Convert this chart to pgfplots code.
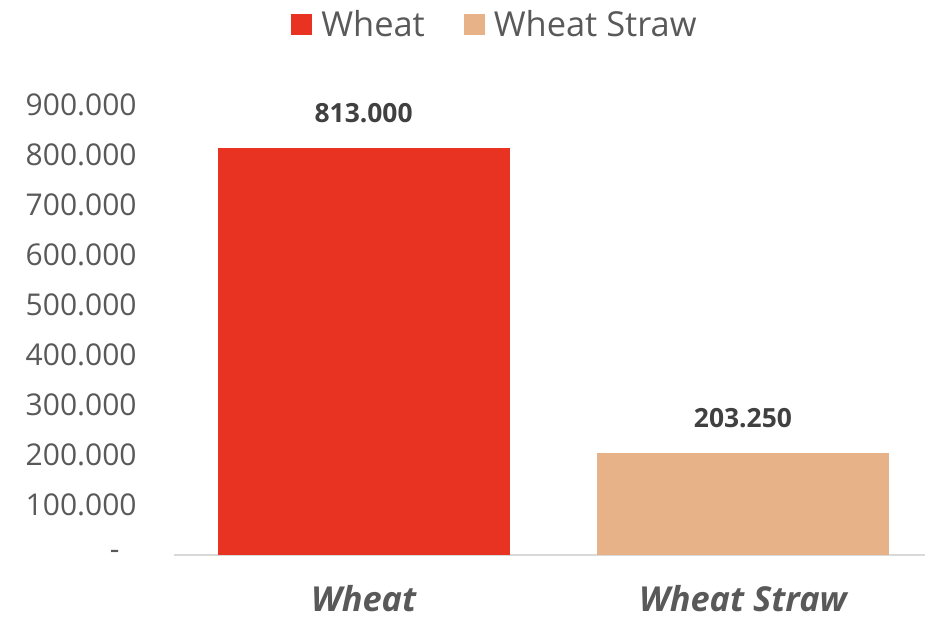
\documentclass[border=0pt]{standalone}
\usepackage{fontspec}
\setmainfont{Open Sans}
\usepackage{pgfplots}
\pgfplotsset{compat=1.18}
\definecolor{cRed}{HTML}{E83323}
\definecolor{cTan}{HTML}{E8B289}
\definecolor{cTxt}{HTML}{595959}
\definecolor{cVal}{HTML}{404040}
\definecolor{cAx}{HTML}{D9D9D9}
\begin{document}
\begin{tikzpicture}
\path[use as bounding box] (0,0) rectangle (463.5pt,310pt);
\begin{axis}[
  at={(87pt,32.5pt)}, anchor=south west,
  scale only axis, width=375.5pt, height=225pt,
  xmin=-0.5, xmax=1.48, ymin=0, ymax=900000,
  scaled y ticks=false,
  axis x line*=bottom, axis y line*=left,
  x axis line style={draw=cAx, line width=0.8pt, -},
  y axis line style={draw=none},
  xtick={0,1}, xticklabels={Wheat, Wheat Straw},
  xticklabel style={anchor=base, inner sep=0pt, text depth=0pt, yshift=-28.5pt, font=\fontsize{17.2}{19}\selectfont\bfseries\itshape, text=cTxt},
  ytick={0,100000,200000,300000,400000,500000,600000,700000,800000,900000},
  yticklabels={{-\kern8.5pt},100.000,200.000,300.000,400.000,500.000,600.000,700.000,800.000,900.000},
  yticklabel style={anchor=east, inner sep=0pt, xshift=-18.5pt, font=\fontsize{15}{17}\selectfont, text=cTxt},
  major tick length=0pt,
  clip=false,
  legend style={at={(0.426,1.178)}, anchor=center, draw=none, fill=none,
    legend columns=-1, font=\fontsize{17.2}{19}\selectfont, text=cTxt,
    nodes={inner sep=0pt},
    /tikz/every even column/.append style={column sep=19.5pt},
    /tikz/every odd column/.append style={column sep=4.5pt},
    inner sep=0pt},
  point meta=explicit symbolic,
  nodes near coords,
  nodes near coords style={anchor=base, inner sep=0pt, yshift=12.75pt, font=\fontsize{13.2}{15}\selectfont\bfseries, text=cVal},
]
\addplot[ybar, bar width=146pt, bar shift=0pt, fill=cRed, draw=none,
  legend image code/.code={\fill[cRed] (0pt,-5.25pt) rectangle (10.5pt,5.25pt);}]
  coordinates {(0,813000) [813.000]};
\addplot[ybar, bar width=146pt, bar shift=0pt, fill=cTan, draw=none,
  legend image code/.code={\fill[cTan] (0pt,-5.25pt) rectangle (10.5pt,5.25pt);}]
  coordinates {(1,203250) [203.250]};
\legend{Wheat, Wheat Straw}
\end{axis}
\end{tikzpicture}
\end{document}
